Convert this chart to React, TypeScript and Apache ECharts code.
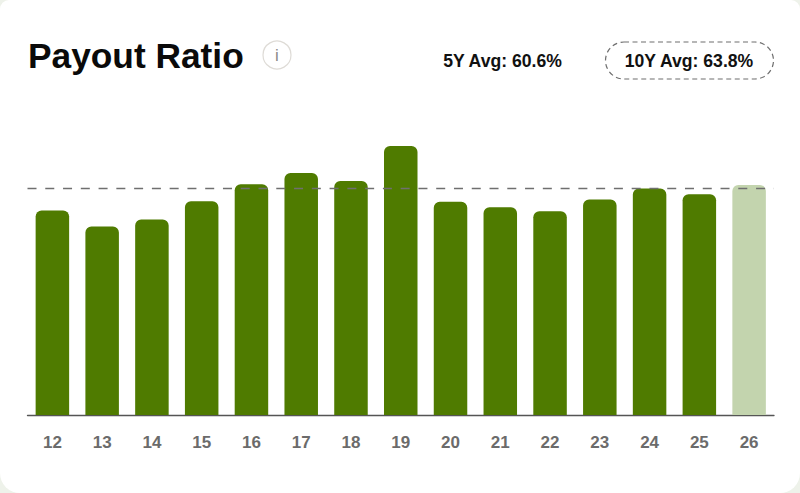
import React, { useEffect, useRef } from "react";
import * as echarts from "echarts";

const categories = ["12", "13", "14", "15", "16", "17", "18", "19", "20", "21", "22", "23", "24", "25", "26"];
const payoutRatio = [57.6, 53.1, 55.1, 60.2, 65.0, 68.2, 65.9, 75.8, 60.1, 58.5, 57.4, 60.7, 63.8, 62.2, 64.8];
const estimatedFrom = "26";
const tenYearAverage = 63.8;
const titleText = "Payout Ratio";
const fiveYearLabel = "5Y Avg: 60.6%";
const tenYearLabel = "10Y Avg: 63.8%";
const FONT = "'Liberation Sans', Arial, sans-serif";

export default function App() {
  const ref = useRef<HTMLDivElement>(null);
  useEffect(() => {
    document.body.style.margin = "0";
    const chart = echarts.init(ref.current!, undefined, { renderer: "svg" });
    chart.setOption({
      animation: false,
      grid: { left: 27.5, right: 26, top: 131, height: 284 },
      xAxis: {
        type: "category",
        data: categories,
        axisTick: { show: false },
        axisLine: { lineStyle: { color: "#555555", width: 1.3 } },
        axisLabel: { color: "#6b6b6b", fontSize: 17, fontWeight: "bold", fontFamily: FONT, margin: 18.5 },
      },
      yAxis: { type: "value", min: 0, max: 80, show: false },
      series: [
        {
          type: "bar",
          barWidth: 33.5,
          data: payoutRatio.map((v, i) => ({
            value: v,
            itemStyle: { color: categories[i] === estimatedFrom ? "#c3d4ae" : "#4f7b00" },
          })),
          itemStyle: { borderRadius: [6, 6, 0, 0] },
          markLine: {
            silent: true,
            symbol: "none",
            label: { show: false },
            lineStyle: { color: "#6f6f6f", type: [9, 8.77], width: 1.4 },
            data: [{ yAxis: tenYearAverage }],
          },
        },
      ],
      graphic: [
        { type: "text", x: 28, y: 55, style: { text: titleText, fill: "#0a0a0a", font: `bold 35.3px ${FONT}`, verticalAlign: "middle" } },
        { type: "circle", shape: { cx: 277, cy: 55, r: 14 }, style: { fill: "#ffffff", stroke: "#dedbd6", lineWidth: 1.2 } },
        { type: "text", x: 277, y: 55, style: { text: "i", fill: "#8a8a8a", font: `17px ${FONT}`, align: "center", verticalAlign: "middle" } },
        { type: "text", x: 502.5, y: 61, style: { text: fiveYearLabel, fill: "#111111", font: `bold 17.6px ${FONT}`, align: "center", verticalAlign: "middle" } },
        { type: "rect", shape: { x: 605.5, y: 42, width: 168, height: 37, r: 18.5 }, style: { fill: "none", stroke: "#6f6f6f", lineWidth: 1.2, lineDash: [5, 3.5] } },
        { type: "text", x: 689, y: 61, style: { text: tenYearLabel, fill: "#111111", font: `bold 17.6px ${FONT}`, align: "center", verticalAlign: "middle" } },
      ],
    });
    return () => chart.dispose();
  }, []);
  return (
    <div style={{ width: 800, height: 493, background: "#eef2ea", overflow: "hidden" }}>
      <div style={{ width: 800, height: 493, background: "#ffffff", borderRadius: "9px 9px 20px 20px" }}>
        <div ref={ref} style={{ width: 800, height: 493 }} />
      </div>
    </div>
  );
}
